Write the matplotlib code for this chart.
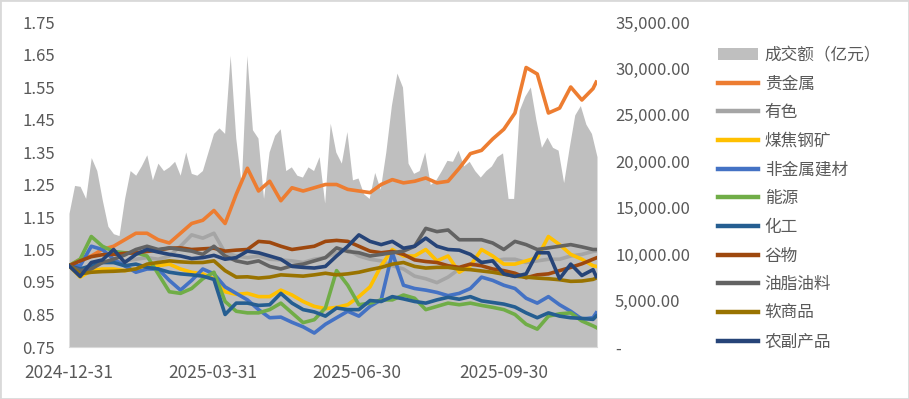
import matplotlib
matplotlib.use('Agg')
import matplotlib.pyplot as plt
from matplotlib.ticker import FuncFormatter, FixedLocator
from matplotlib.patches import Rectangle
import pandas as pd

# ---------------- data ----------------
line_dates = pd.date_range('2024-12-31', periods=48, freq='7D').append(pd.DatetimeIndex(['2025-11-27']))
vol_dates = pd.date_range('2024-12-31', '2025-11-27 12:00', periods=96)

volume = [14400, 17400, 17300, 16000, 20400, 19000, 15800, 13000, 12200, 12000,
          16000, 19000, 18500, 19500, 20700, 18000, 19800, 19000, 19400, 20000,
          18500, 21000, 18700, 18500, 19000, 21000, 23000, 23600, 23000, 31400,
          22500, 17500, 31400, 23400, 22500, 16000, 21000, 22800, 23500, 19000,
          19400, 18500, 18300, 19400, 19000, 20500, 15500, 24100, 21000, 19800,
          23200, 18000, 18200, 16500, 16000, 18800, 17000, 21000, 26000, 29500,
          28000, 19800, 18700, 19000, 21000, 17500, 18000, 19000, 20100, 20000,
          21200, 19500, 20000, 19000, 18300, 19000, 19500, 20500, 20900, 16000,
          16000, 25500, 27000, 28000, 24500, 21500, 22600, 21500, 21200, 17700,
          21500, 25000, 26000, 24000, 23000, 20500]

precious = [1.00, 1.02, 1.03, 1.05, 1.06, 1.08, 1.10, 1.10, 1.08, 1.07,
            1.10, 1.13, 1.14, 1.17, 1.13, 1.22, 1.30, 1.23, 1.26, 1.20,
            1.24, 1.23, 1.24, 1.25, 1.25, 1.235, 1.23, 1.225, 1.25, 1.265,
            1.255, 1.26, 1.27, 1.255, 1.26, 1.30, 1.345, 1.355, 1.39, 1.42,
            1.47, 1.61, 1.59, 1.47, 1.485, 1.55, 1.51, 1.545, 1.565]
nonferrous = [1.00, 0.99, 1.00, 1.01, 1.01, 1.015, 1.02, 1.025, 1.02, 1.03,
              1.06, 1.095, 1.085, 1.10, 1.04, 1.03, 1.025, 1.03, 1.02, 1.018,
              1.015, 1.01, 1.02, 1.025, 1.04, 1.05, 1.03, 1.02, 1.015, 1.00,
              0.99, 0.968, 0.96, 0.948, 0.965, 0.99, 1.00, 1.01, 1.015, 1.02,
              1.02, 1.01, 1.015, 1.02, 1.02, 1.03, 1.035, 1.044, 1.045]
coal_steel = [1.00, 0.965, 0.985, 0.99, 0.99, 0.985, 0.99, 0.995, 1.00, 1.005,
              0.99, 0.98, 0.975, 0.96, 0.92, 0.912, 0.915, 0.905, 0.905, 0.925,
              0.91, 0.89, 0.875, 0.868, 0.872, 0.88, 0.905, 0.935, 1.00, 1.05,
              1.03, 1.03, 1.05, 1.015, 1.03, 0.98, 1.00, 1.05, 1.03, 1.005,
              1.005, 1.015, 1.025, 1.09, 1.065, 1.035, 1.02, 1.00, 0.998]
nonmetal = [1.00, 1.00, 1.06, 1.05, 1.02, 1.00, 0.98, 0.99, 0.99, 0.955,
            0.925, 0.955, 0.99, 0.975, 0.935, 0.915, 0.895, 0.865, 0.84, 0.842,
            0.826, 0.812, 0.793, 0.82, 0.84, 0.86, 0.845, 0.875, 0.895, 1.04,
            0.94, 0.93, 0.925, 0.918, 0.908, 0.915, 0.93, 0.965, 0.955, 0.94,
            0.93, 0.90, 0.885, 0.905, 0.88, 0.86, 0.836, 0.84, 0.855]
energy = [1.00, 1.02, 1.09, 1.06, 1.044, 1.04, 1.04, 1.03, 0.975, 0.92,
          0.915, 0.93, 0.96, 0.98, 0.89, 0.86, 0.855, 0.855, 0.865, 0.885,
          0.855, 0.825, 0.834, 0.87, 0.985, 0.94, 0.88, 0.885, 0.895, 0.895,
          0.91, 0.90, 0.865, 0.875, 0.885, 0.88, 0.885, 0.878, 0.872, 0.865,
          0.85, 0.82, 0.805, 0.845, 0.852, 0.855, 0.83, 0.815, 0.81]
chemical = [1.00, 0.99, 1.00, 1.01, 1.01, 1.00, 1.005, 0.995, 0.99, 0.98,
            0.975, 0.972, 0.968, 0.958, 0.85, 0.885, 0.885, 0.878, 0.88, 0.915,
            0.885, 0.865, 0.858, 0.845, 0.87, 0.865, 0.865, 0.893, 0.89, 0.905,
            0.898, 0.89, 0.885, 0.895, 0.903, 0.897, 0.905, 0.892, 0.887, 0.882,
            0.873, 0.855, 0.84, 0.855, 0.845, 0.84, 0.838, 0.835, 0.845]
grains = [1.00, 1.015, 1.028, 1.034, 1.035, 1.038, 1.04, 1.044, 1.048, 1.054,
          1.055, 1.05, 1.052, 1.054, 1.045, 1.048, 1.05, 1.075, 1.072, 1.06,
          1.05, 1.055, 1.06, 1.075, 1.078, 1.075, 1.06, 1.045, 1.04, 1.044,
          1.035, 1.018, 1.013, 1.01, 1.00, 0.995, 1.005, 1.00, 0.99, 0.985,
          0.977, 0.963, 0.972, 0.975, 0.985, 0.995, 1.006, 1.02, 1.024]
oilseeds = [1.00, 0.985, 0.99, 1.01, 1.02, 1.033, 1.05, 1.06, 1.05, 1.055,
            1.05, 1.045, 1.035, 1.06, 1.03, 1.015, 1.008, 1.015, 0.998, 0.99,
            1.00, 1.005, 1.015, 1.025, 1.055, 1.044, 1.04, 1.03, 1.035, 1.04,
            1.045, 1.06, 1.115, 1.105, 1.11, 1.08, 1.08, 1.08, 1.07, 1.05,
            1.075, 1.065, 1.05, 1.055, 1.06, 1.065, 1.058, 1.05, 1.05]
softs = [1.00, 0.975, 0.98, 0.982, 0.983, 0.985, 0.99, 1.005, 1.01, 1.015,
         1.012, 1.01, 1.01, 1.015, 0.985, 0.965, 0.966, 0.962, 0.965, 0.972,
         0.97, 0.968, 0.972, 0.977, 0.972, 0.975, 0.98, 0.988, 0.995, 1.005,
         1.01, 0.998, 0.993, 0.995, 0.995, 0.99, 0.988, 0.984, 0.98, 0.974,
         0.968, 0.965, 0.962, 0.96, 0.957, 0.952, 0.953, 0.958, 0.962]
agri_products = [1.00, 0.967, 1.01, 1.018, 1.05, 1.01, 1.035, 1.05, 1.042, 1.035,
                 1.03, 1.022, 1.025, 1.032, 1.02, 1.025, 1.045, 1.04, 1.03, 1.02,
                 0.998, 0.995, 0.993, 0.998, 1.03, 1.06, 1.095, 1.075, 1.065, 1.075,
                 1.054, 1.06, 1.085, 1.06, 1.05, 1.048, 1.035, 1.01, 1.015, 0.975,
                 0.967, 0.975, 1.04, 1.04, 0.96, 1.005, 0.97, 0.988, 0.967]

series_names = ['贵金属', '有色', '煤焦钢矿', '非金属建材', '能源', '化工',
                '谷物', '油脂油料', '软商品', '农副产品']
series_values = [precious, nonferrous, coal_steel, nonmetal, energy, chemical,
                 grains, oilseeds, softs, agri_products]
series_colors = ['#ED7D31', '#A5A5A5', '#FFC000', '#4472C4', '#70AD47', '#255E91',
                 '#9E480E', '#636363', '#997300', '#264478']
volume_label = '成交额（亿元）'

left_ticks = [0.75, 0.85, 0.95, 1.05, 1.15, 1.25, 1.35, 1.45, 1.55, 1.65, 1.75]
right_ticks = [0, 5000, 10000, 15000, 20000, 25000, 30000, 35000]
x_ticks = ['2024-12-31', '2025-03-31', '2025-06-30', '2025-09-30']

# ---------------- plot ----------------
plt.rcParams['font.family'] = ['Noto Sans CJK SC', 'DejaVu Sans']
TXT = '#595959'

fig = plt.figure(figsize=(9.09, 3.99), dpi=100)
rect = [69 / 909, 1 - 347 / 399, (597 - 69) / 909, (347 - 22) / 399]
axv = fig.add_axes(rect)
axl = axv.twinx()

area = axv.fill_between(vol_dates, volume, 0, color='#BFBFBF', lw=0, label=volume_label)
axv.set_ylim(0, 35000)
axv.yaxis.tick_right()
axv.yaxis.set_major_locator(FixedLocator(right_ticks))
axv.yaxis.set_major_formatter(FuncFormatter(lambda v, p: '-' if v == 0 else f'{v:,.2f}'))

handles = [area]
for name, vals, col in zip(series_names, series_values, series_colors):
    ln, = axl.plot(line_dates, vals, color=col, lw=2.6, label=name, solid_joinstyle='round')
    handles.append(ln)
axl.set_ylim(0.75, 1.75)
axl.yaxis.tick_left()
axl.yaxis.set_major_locator(FixedLocator(left_ticks))
axl.yaxis.set_major_formatter(FuncFormatter(lambda v, p: f'{v:.2f}'))

xt = pd.to_datetime(x_ticks)
axv.set_xlim(pd.Timestamp('2024-12-31'), pd.Timestamp('2025-11-27 12:00'))
axv.set_xticks(xt)
axv.set_xticklabels(x_ticks)

for ax in (axv, axl):
    for s in ax.spines.values():
        s.set_visible(False)
axv.spines['bottom'].set_visible(True)
axv.spines['bottom'].set_color('#D9D9D9')

axv.tick_params(axis='x', length=0, pad=12, labelsize=12.5, labelcolor=TXT)
axv.tick_params(axis='y', length=0, pad=13, labelsize=12, labelcolor=TXT)
axl.tick_params(axis='y', length=0, pad=10, labelsize=12, labelcolor=TXT)
for lab in axv.get_yticklabels():
    lab.set_horizontalalignment('left')

leg = axl.legend(handles, [h.get_label() for h in handles], loc='upper left',
                 bbox_to_anchor=(718 / 909, 1 - 47 / 399), bbox_transform=fig.transFigure,
                 frameon=False, fontsize=12, handlelength=2.4, handletextpad=0.4,
                 labelspacing=0.70, borderpad=0, borderaxespad=0)
for t in leg.get_texts():
    t.set_color(TXT)
for h in leg.legend_handles[1:]:
    h.set_linewidth(3.2)

fig.patches.append(Rectangle((0, 0), 1, 1, transform=fig.transFigure, fill=False,
                             edgecolor='#D9D9D9', lw=2, clip_on=False))

fig.savefig('out.png', dpi=100)
